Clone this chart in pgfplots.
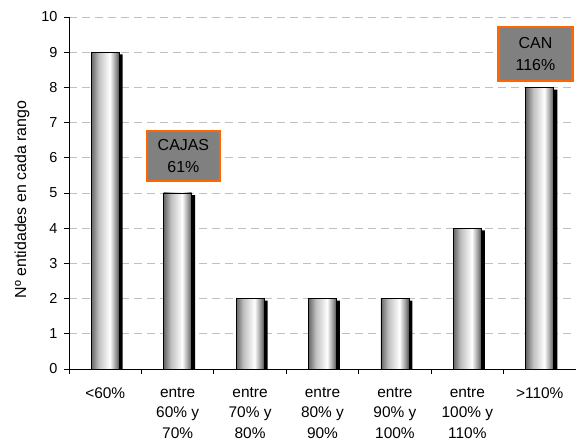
\documentclass[border=0pt]{standalone}
\usepackage{fontspec}
\setmainfont{Liberation Sans}
\usepackage{pgfplots}
\pgfplotsset{compat=1.18}
\pgfdeclarehorizontalshading{barshade}{100bp}{color(0bp)=(black!60); color(25bp)=(black!60); color(38bp)=(black!25); color(58bp)=(white); color(70bp)=(black!45); color(75bp)=(black!70); color(100bp)=(black!70)}
\definecolor{boxorange}{RGB}{255,102,0}
\definecolor{boxgray}{RGB}{128,128,128}
\definecolor{gridgray}{RGB}{192,192,192}
\pgfplotsset{mainbar/.style={ybar, bar width=28bp, bar shift=0bp, draw=black, line width=0.8bp, shade, shading=barshade}}
\begin{document}
\begin{tikzpicture}
\useasboundingbox (-69bp,-72bp) rectangle (507bp,369bp);
\begin{axis}[
  at={(0,0)}, anchor=south west,
  scale only axis, width=507bp, height=352bp,
  xmin=-0.5, xmax=6.5, ymin=0, ymax=10,
  axis lines*=left,
  axis line style={black, line width=0.8bp},
  tick align=outside, tick pos=left,
  major tick length=5bp,
  tick style={black, line width=0.8bp},
  /pgf/number format/assume math mode=true,
  ytick={0,1,...,10},
  ymajorgrids,
  grid style={gridgray, dash pattern=on 8bp off 5bp, line width=0.8bp},
  xtick={-0.5,0.5,...,6.5},
  x tick label as interval,
  xticklabels={{<60\%},{entre\\60\% y\\70\%},{entre\\70\% y\\80\%},{entre\\80\% y\\90\%},{entre\\90\% y\\100\%},{entre\\100\% y\\110\%},{>110\%}},
  xticklabel style={align=center, font=\fontsize{15.5}{20.5}\selectfont, yshift=-10bp},
  yticklabel style={font=\fontsize{14.5}{16}\selectfont, xshift=-3bp},
  ylabel={Nº entidades en cada rango},
  ylabel style={at={(axis description cs:-0.0927,0.4815)}, anchor=center, rotate=0, font=\fontsize{16}{18}\selectfont},
  clip=false,
]
\addplot[ybar, bar width=28bp, bar shift=3.5bp, fill=black, draw=none]
  coordinates {(0,8.94) (1,4.94) (2,1.94) (3,1.94) (4,1.94) (5,3.94) (6,7.94)};
\addplot[mainbar] coordinates {(0,9)};
\addplot[mainbar] coordinates {(1,5)};
\addplot[mainbar] coordinates {(2,2)};
\addplot[mainbar] coordinates {(3,2)};
\addplot[mainbar] coordinates {(4,2)};
\addplot[mainbar] coordinates {(5,4)};
\addplot[mainbar] coordinates {(6,8)};
\node[draw=boxorange, line width=2.6bp, fill=boxgray, minimum width=73bp, minimum height=50bp, align=center, inner sep=0pt, font=\fontsize{16}{21.5}\selectfont] at (axis cs:1.08,6.05) {CAJAS\\61\%};
\node[draw=boxorange, line width=2.6bp, fill=boxgray, minimum width=74bp, minimum height=54bp, align=center, inner sep=0pt, font=\fontsize{16}{21.5}\selectfont] at (axis cs:5.94,8.95) {CAN\\116\%};
\end{axis}
\end{tikzpicture}
\end{document}
